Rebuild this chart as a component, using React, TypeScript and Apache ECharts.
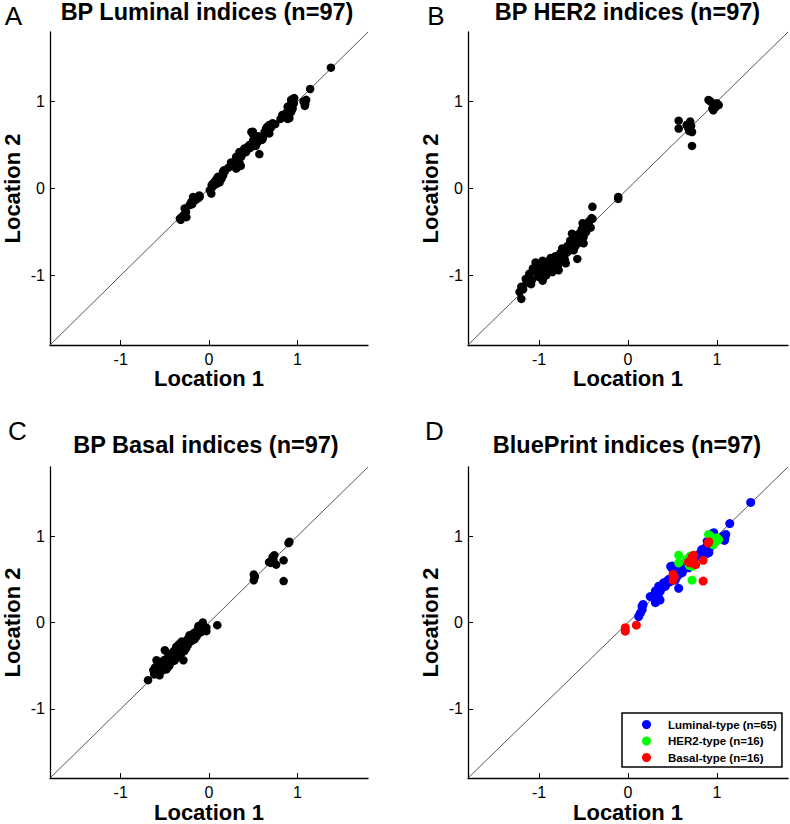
import React, { useEffect, useRef } from "react";
import * as echarts from "echarts";

// ---- Axis / labels ----
const axisMin = -1.8;
const axisMax = 1.8;
const tickValues = [-1, 0, 1];
const xAxisTitle = "Location 1";
const yAxisTitle = "Location 2";
const panelLetters = ["A", "B", "C", "D"];
const panelTitles = [
  "BP Luminal indices (n=97)",
  "BP HER2 indices (n=97)",
  "BP Basal indices (n=97)",
  "BluePrint indices (n=97)",
];
const legendNames = ["Luminal-type (n=65)", "HER2-type (n=16)", "Basal-type (n=16)"];

// ---- Data: [location 1, location 2] ----
// Luminal index of the Luminal-type samples (panel A and blue in panel D)
const luminalIndexLuminalType = [
  [1.38, 1.39], [1.145, 1.145], [1.1, 1.02], [1.085, 0.95], [1.09, 0.97], [1.07, 1.0],
  [0.93, 1.02], [0.965, 1.04], [0.95, 1.03], [0.89, 0.94], [0.947, 0.92], [0.92, 0.96], [0.96, 0.98],
  [0.83, 0.845], [0.91, 0.81], [0.87, 0.865], [0.85, 0.84], [0.89, 0.8], [0.81, 0.8], [0.9, 0.83], [0.93, 0.88],
  [0.683, 0.73], [0.646, 0.69], [0.683, 0.634], [0.61, 0.577], [0.66, 0.71], [0.7, 0.7], [0.63, 0.65],
  [0.496, 0.653], [0.514, 0.557], [0.458, 0.5], [0.57, 0.396], [0.48, 0.65], [0.5, 0.62], [0.53, 0.49], [0.59, 0.57], [0.55, 0.53],
  [0.4, 0.46], [0.345, 0.42], [0.308, 0.365], [0.364, 0.365], [0.289, 0.288], [0.308, 0.23], [0.345, 0.288], [0.42, 0.42],
  [0.44, 0.48], [0.4, 0.44], [0.36, 0.26], [0.31, 0.3], [0.25, 0.3], [0.38, 0.4], [0.43, 0.45], [0.47, 0.47],
  [0.158, 0.19], [0.14, 0.11], [0.12, 0.07], [0.17, 0.21], [0.16, 0.15],
  [0.3, 0.32], [0.33, 0.35], [0.52, 0.52], [0.56, 0.6], [0.62, 0.61], [0.75, 0.74], [0.72, 0.75],
];
// Luminal index of the other samples (panel A only)
const luminalIndexOtherTypes = [
  [0.1, 0.134], [0.063, 0.076], [0.026, -0.058], [0.04, 0.02], [0.08, 0.1], [0.05, 0.06],
  [-0.18, -0.097], [-0.106, -0.097], [-0.2, -0.155], [-0.12, -0.11], [-0.15, -0.13], [-0.19, -0.18],
  [-0.275, -0.23], [-0.256, -0.33], [-0.33, -0.346], [-0.3, -0.32], [-0.26, -0.27], [-0.28, -0.3], [-0.32, -0.36],
  [0.03, 0.04], [0.01, -0.02], [0.08, 0.05], [0.12, 0.13], [-0.22, -0.19], [-0.11, -0.08],
  [0.35, 0.38], [0.45, 0.46], [0.5, 0.55], [0.28, 0.26], [0.6, 0.56], [0.22, 0.24], [0.18, 0.2],
];
// HER2 index of the HER2-type samples (panel B and green in panel D)
const her2IndexHer2Type = [
  [0.906, 1.018], [0.93, 1.0], [1.0, 0.98], [0.96, 0.9], [1.02, 0.96], [0.98, 0.93], [0.95, 0.92],
  [0.57, 0.78], [0.57, 0.69], [0.7, 0.77], [0.68, 0.69], [0.72, 0.65], [0.72, 0.49], [0.66, 0.73], [0.71, 0.72], [0.69, 0.66],
];
// HER2 index of the other samples (panel B only)
const her2IndexOtherTypes = [
  [-0.11, -0.097], [-0.11, -0.12],
  [-0.4, -0.21], [-0.4, -0.35], [-0.44, -0.44], [-0.51, -0.4], [-0.41, -0.34], [-0.48, -0.42], [-0.51, -0.5],
  [-0.57, -0.56], [-0.63, -0.52], [-0.5, -0.63], [-0.66, -0.65], [-0.74, -0.69], [-0.78, -0.77], [-0.81, -0.85],
  [-0.89, -0.9], [-0.96, -0.83], [-1.04, -0.85], [-1.07, -0.92], [-1.11, -0.98], [-1.15, -1.04], [-1.2, -1.13],
  [-1.22, -1.19], [-1.2, -1.27], [-1.0, -1.02], [-0.92, -1.0], [-0.85, -0.96], [-0.79, -0.9], [-0.7, -0.86],
  [-0.61, -0.71], [-0.57, -0.81], [-0.78, -0.94], [-0.96, -1.06], [-1.09, -1.1],
  [-1.18, -1.16], [-1.14, -1.08], [-1.12, -1.02], [-1.08, -1.05], [-1.05, -0.95], [-1.02, -0.98], [-1.0, -0.92],
  [-0.98, -0.88], [-0.97, -0.95], [-0.94, -0.86], [-0.93, -0.92], [-0.91, -0.97], [-0.9, -0.84], [-0.88, -0.94],
  [-0.86, -0.88], [-0.84, -0.82], [-0.83, -0.9], [-0.82, -0.78], [-0.8, -0.8], [-0.77, -0.84], [-0.76, -0.74],
  [-0.75, -0.8], [-0.73, -0.76], [-0.72, -0.7], [-0.71, -0.82], [-0.69, -0.74], [-0.68, -0.66], [-0.67, -0.72],
  [-0.65, -0.6], [-0.64, -0.68], [-0.62, -0.62], [-0.6, -0.58], [-0.59, -0.66], [-0.58, -0.54], [-0.56, -0.6],
  [-0.55, -0.52], [-0.54, -0.62], [-0.53, -0.55], [-0.52, -0.47], [-0.5, -0.56], [-0.49, -0.45], [-0.47, -0.5],
  [-0.46, -0.42], [-0.44, -0.38], [-0.42, -0.45], [-0.87, -0.8],
];
// Basal index of the Basal-type samples (panel C and red in panel D)
const basalIndexBasalType = [
  [0.91, 0.935], [0.74, 0.78], [0.72, 0.76], [0.68, 0.7], [0.7, 0.69], [0.76, 0.67], [0.845, 0.72], [0.845, 0.48],
  [0.507, 0.556], [0.507, 0.49], [0.094, -0.03], [-0.03, -0.06], [-0.03, -0.1], [0.9, 0.92], [0.73, 0.72], [0.52, 0.53],
];
// Basal index of the other samples (panel C only)
const basalIndexOtherTypes = [
  [-0.07, 0.0], [-0.124, -0.077], [-0.087, -0.065], [-0.14, -0.1], [-0.2, -0.16], [-0.31, -0.22], [-0.37, -0.28], [-0.69, -0.667],
  [-0.594, -0.436], [-0.5, -0.32], [-0.425, -0.378], [-0.35, -0.29], [-0.29, -0.436], [-0.22, -0.146], [-0.54, -0.49],
  [-0.575, -0.55], [-0.46, -0.48], [-0.405, -0.44], [-0.48, -0.54], [-0.63, -0.55], [-0.56, -0.61], [-0.39, -0.35],
  [-0.24, -0.26], [-0.16, -0.19],
  [-0.06, -0.05], [-0.08, -0.02], [-0.1, -0.08], [-0.12, -0.04], [-0.11, -0.12], [-0.15, -0.14], [-0.17, -0.12],
  [-0.18, -0.2], [-0.19, -0.15], [-0.21, -0.22], [-0.23, -0.18], [-0.25, -0.2], [-0.26, -0.3], [-0.27, -0.24],
  [-0.28, -0.33], [-0.3, -0.27], [-0.32, -0.31], [-0.33, -0.37], [-0.34, -0.25], [-0.36, -0.34], [-0.38, -0.4],
  [-0.4, -0.33], [-0.41, -0.38], [-0.42, -0.45], [-0.43, -0.36], [-0.44, -0.41], [-0.45, -0.5], [-0.46, -0.39],
  [-0.47, -0.44], [-0.48, -0.47], [-0.49, -0.52], [-0.5, -0.43], [-0.51, -0.48], [-0.52, -0.55], [-0.53, -0.45],
  [-0.55, -0.52], [-0.56, -0.5], [-0.57, -0.57], [-0.58, -0.46], [-0.6, -0.56], [-0.61, -0.52], [-0.62, -0.6],
  [-0.58, -0.53], [-0.44, -0.47], [-0.37, -0.38], [-0.31, -0.35], [-0.27, -0.28], [-0.2, -0.21], [-0.14, -0.16],
  [-0.09, -0.11], [-0.47, -0.52], [-0.41, -0.42], [-0.35, -0.4], [-0.52, -0.5], [-0.39, -0.44], [-0.33, -0.3], [-0.24, -0.24],
];

const FONT = "'Liberation Sans', Arial, Helvetica, sans-serif";

function buildOption() {
  const grids = [
    { left: 48, top: 32, width: 320, height: 313 },
    { left: 468, top: 32, width: 320, height: 313 },
    { left: 48, top: 467, width: 320, height: 312 },
    { left: 468, top: 467, width: 320, height: 312 },
  ];
  const titlePos = [
    [207, 11.5], [627.5, 11.5], [206, 445], [627, 445],
  ];
  const letterPos = [
    [13.5, 16], [436, 16], [17.5, 430.5], [434.5, 430.5],
  ];

  const axisCommon = {
    type: "value",
    min: axisMin,
    max: axisMax,
    axisLine: { onZero: false, lineStyle: { color: "#000", width: 1.3 } },
    axisTick: { inside: true, length: 5, customValues: tickValues, lineStyle: { color: "#000", width: 1 } },
    axisLabel: { customValues: tickValues, color: "#000", fontSize: 16, fontFamily: FONT },
    splitLine: { show: false },
    nameLocation: "middle",
    nameTextStyle: { color: "#000", fontSize: 22, fontWeight: "bold", fontFamily: FONT },
  };

  const xAxis = grids.map((_, i) => ({
    ...axisCommon,
    gridIndex: i,
    name: xAxisTitle,
    nameGap: 22,
    axisLabel: { ...axisCommon.axisLabel, margin: 6 },
  }));
  const yAxis = grids.map((_, i) => ({
    ...axisCommon,
    gridIndex: i,
    name: yAxisTitle,
    nameGap: 27,
    axisLabel: { ...axisCommon.axisLabel, margin: 5 },
  }));

  const diag = [[axisMin, axisMin], [axisMax, axisMax]];
  const series: any[] = [];
  for (let i = 0; i < 4; i++) {
    series.push({
      type: "line",
      name: "identity" + i,
      xAxisIndex: i,
      yAxisIndex: i,
      data: diag,
      showSymbol: false,
      silent: true,
      z: 1,
      lineStyle: { color: "#444", width: 0.9 },
    });
  }
  const blackScatter = (i: number, data: number[][], name: string) => ({
    type: "scatter",
    name,
    xAxisIndex: i,
    yAxisIndex: i,
    data,
    symbol: "circle",
    symbolSize: 8.5,
    z: 3,
    itemStyle: { color: "#000", opacity: 1 },
  });
  series.push(blackScatter(0, [...luminalIndexLuminalType, ...luminalIndexOtherTypes], "Luminal index"));
  series.push(blackScatter(1, [...her2IndexHer2Type, ...her2IndexOtherTypes], "HER2 index"));
  series.push(blackScatter(2, [...basalIndexBasalType, ...basalIndexOtherTypes], "Basal index"));
  const colored = [
    [luminalIndexLuminalType, "#0000FF"],
    [her2IndexHer2Type, "#00FF00"],
    [basalIndexBasalType, "#FF0000"],
  ] as const;
  colored.forEach(([data, color], k) => {
    series.push({
      type: "scatter",
      name: legendNames[k],
      xAxisIndex: 3,
      yAxisIndex: 3,
      data,
      symbol: "circle",
      symbolSize: 9,
      z: 3 + k,
      itemStyle: { color, opacity: 1 },
    });
  });

  const graphic: any[] = [];
  panelTitles.forEach((t, i) => {
    graphic.push({
      type: "text",
      x: titlePos[i][0],
      y: titlePos[i][1],
      style: {
        text: t,
        font: `bold 23.5px ${FONT}`,
        fill: "#000",
        textAlign: "center",
        textVerticalAlign: "middle",
      },
    });
    graphic.push({
      type: "text",
      x: letterPos[i][0],
      y: letterPos[i][1],
      style: {
        text: panelLetters[i],
        font: `26px ${FONT}`,
        fill: "#000",
        textAlign: "center",
        textVerticalAlign: "middle",
      },
    });
  });

  return {
    animation: false,
    backgroundColor: "#fff",
    grid: grids,
    xAxis,
    yAxis,
    series,
    graphic,
    legend: {
      data: legendNames,
      orient: "vertical",
      left: 622,
      top: 713,
      padding: [5, 5, 3, 20],
      itemGap: 3.5,
      itemWidth: 9,
      itemHeight: 9,
      icon: "circle",
      borderColor: "#000",
      borderWidth: 1.5,
      backgroundColor: "#fff",
      selectedMode: false,
      itemStyle: { opacity: 1 },
      textStyle: {
        color: "#000",
        fontSize: 11.5,
        fontWeight: "bold",
        fontFamily: FONT,
        lineHeight: 13,
        padding: [0, 0, 0, 12],
      },
    },
  };
}

export default function App() {
  const ref = useRef<HTMLDivElement>(null);
  useEffect(() => {
    if (!ref.current) return;
    const chart = echarts.init(ref.current, null, { renderer: "svg" });
    chart.setOption(buildOption() as any);
    return () => chart.dispose();
  }, []);
  return (
    <div
      ref={ref}
      style={{ position: "fixed", left: 0, top: 0, width: 790, height: 824, background: "#fff" }}
    />
  );
}
